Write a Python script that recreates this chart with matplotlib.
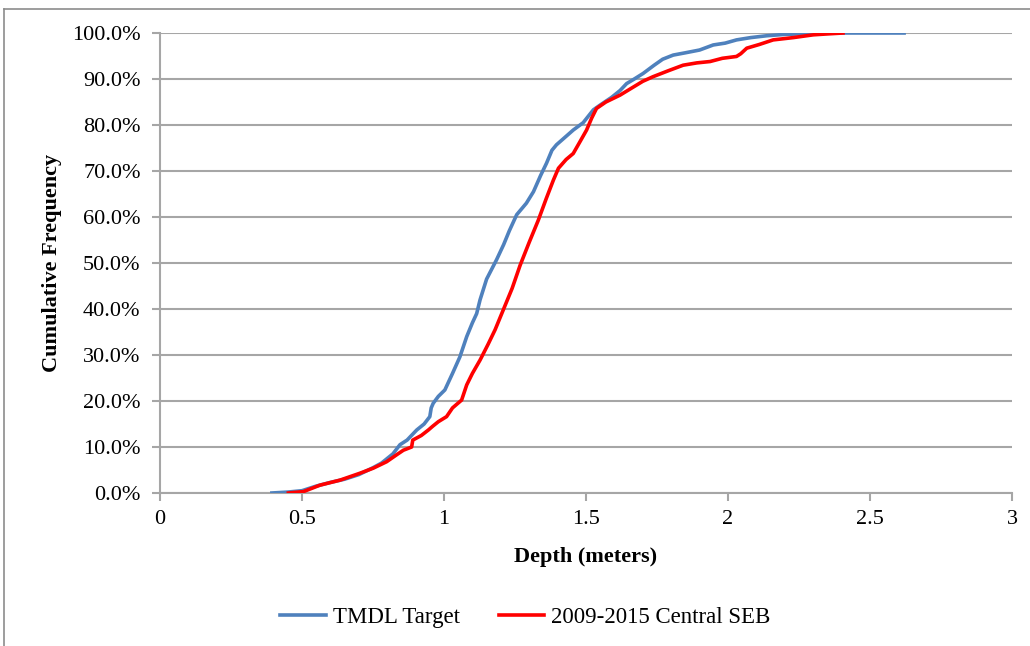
import numpy as np
import matplotlib.pyplot as plt
from matplotlib.lines import Line2D
from matplotlib.ticker import PercentFormatter

# TMDL Target curve (depth in meters, cumulative frequency in %)
tmdl_depth = [0.394, 0.45, 0.5, 0.55, 0.6, 0.65, 0.7, 0.75, 0.78, 0.82, 0.845, 0.87,
              0.904, 0.93, 0.95, 0.955, 0.962, 0.98, 1.003, 1.03, 1.056, 1.08, 1.10,
              1.115, 1.127, 1.15, 1.185, 1.21, 1.23, 1.256, 1.29, 1.315, 1.34, 1.361,
              1.38, 1.396, 1.42, 1.455, 1.49, 1.526, 1.549, 1.59, 1.62, 1.643, 1.67,
              1.701, 1.74, 1.77, 1.807, 1.85, 1.90, 1.948, 1.99, 2.03, 2.08, 2.136,
              2.2, 2.254, 2.3, 2.62]
tmdl_freq = [0, 0.2, 0.5, 1.5, 2.3, 3.0, 4.0, 5.5, 6.5, 8.5, 10.5, 11.5,
             13.7, 15, 16.6, 18.5, 19.5, 21, 22.4, 26, 29.6, 34, 37,
             39, 42, 46.5, 50.7, 54, 57, 60.5, 63, 65.5, 69, 71.7,
             74.5, 75.7, 77, 78.9, 80.5, 83.3, 84.3, 86, 87.5, 89, 90,
             91.2, 93, 94.3, 95.2, 95.7, 96.3, 97.4, 97.8, 98.5, 99.0, 99.4,
             99.7, 99.8, 100, 100]

# 2009-2015 Central SEB curve
seb_depth = [0.452, 0.505, 0.563, 0.634, 0.704, 0.751, 0.798, 0.833, 0.857, 0.886,
             0.89, 0.92, 0.945, 0.96, 0.98, 1.009, 1.03, 1.062, 1.08, 1.10, 1.127,
             1.155, 1.18, 1.20, 1.22, 1.24, 1.268, 1.30, 1.332, 1.36, 1.385,
             1.403, 1.43, 1.455, 1.48, 1.502, 1.52, 1.537, 1.57, 1.62, 1.66, 1.70,
             1.736, 1.79, 1.842, 1.89, 1.937, 1.98, 2.03, 2.045, 2.066, 2.11, 2.159,
             2.23, 2.3, 2.35, 2.405]
seb_freq = [0, 0.3, 1.7, 2.8, 4.3, 5.4, 6.8, 8.3, 9.3, 10,
            11.5, 12.5, 13.7, 14.5, 15.5, 16.6, 18.5, 20.2, 23.5, 26, 28.9,
            32.3, 35.5, 38.5, 41.5, 44.5, 49.5, 54.5, 59.3, 64, 68,
            70.6, 72.5, 73.8, 76.5, 78.9, 81.5, 83.6, 85, 86.5, 88, 89.5,
            90.5, 91.8, 93, 93.5, 93.8, 94.5, 94.9, 95.5, 96.7, 97.5, 98.5,
            99.0, 99.6, 99.8, 100]

labels = ['TMDL Target', '2009-2015 Central SEB']
colors = ['#4F81BD', '#FF0000']

plt.rcParams['font.family'] = ['Liberation Serif', 'DejaVu Serif']

fig = plt.figure(figsize=(10.3, 6.46), dpi=100)
ax = fig.add_axes([160 / 1030, 1 - 493 / 646, 852 / 1030, 460 / 646])

ax.plot(tmdl_depth, tmdl_freq, color=colors[0], lw=2.6, zorder=3)
ax.plot(seb_depth, seb_freq, color=colors[1], lw=2.6, zorder=4)

ax.set_xlim(0, 3)
ax.set_ylim(0, 100)
ax.set_xticks(np.arange(0, 3.01, 0.5))
ax.set_xticklabels(['0', '0.5', '1', '1.5', '2', '2.5', '3'])
ax.set_yticks(np.arange(0, 101, 10))
ax.yaxis.set_major_formatter(PercentFormatter(decimals=1))
ax.grid(axis='y', color='#a6a6a6', lw=1.5)
ax.set_axisbelow(True)

for s in ['top', 'right']:
    ax.spines[s].set_visible(False)
for s in ['left', 'bottom']:
    ax.spines[s].set_color('#a6a6a6')
    ax.spines[s].set_linewidth(1.5)
ax.tick_params(axis='both', colors='#a6a6a6', labelcolor='black', labelsize=16,
               width=1.5, length=6)
ax.tick_params(axis='y', pad=8)
ax.tick_params(axis='x', pad=6)

ax.set_xlabel('Depth (meters)', fontsize=16, fontweight='bold')
ax.set_ylabel('Cumulative Frequency', fontsize=16, fontweight='bold')
ax.xaxis.set_label_coords(0.5, -0.118)
ax.yaxis.set_label_coords(-0.115, 0.5)

handles = [Line2D([], [], color=c, lw=2.6) for c in colors]
fig.legend(handles, labels, loc='center', bbox_to_anchor=(0.51, 1 - 617 / 646),
           ncol=2, frameon=False, fontsize=16.5, handlelength=2.0,
           handletextpad=0.3, columnspacing=1.7)

# outer chart border (only left/top visible in the original)
fig.add_artist(Line2D([4 / 1030, 4 / 1030], [0, 1 - 9 / 646], transform=fig.transFigure,
                      color='#8c8c8c', lw=1.2))
fig.add_artist(Line2D([4 / 1030, 1], [1 - 9 / 646, 1 - 9 / 646], transform=fig.transFigure,
                      color='#8c8c8c', lw=1.2))

fig.savefig('out.png', dpi=100)
